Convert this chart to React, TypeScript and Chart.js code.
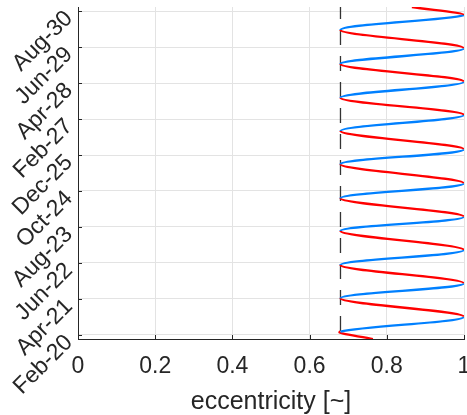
import React, { useEffect, useRef } from 'react';
import { Chart, registerables } from 'chart.js';

Chart.register(...registerables);

// y axis: months since Feb 2020
const yTickMonths = [0, 14, 28, 42, 56, 70, 84, 98, 112, 126];
const yTickLabels = ['Feb-20', 'Apr-21', 'Jun-22', 'Aug-23', 'Oct-24', 'Dec-25', 'Feb-27', 'Apr-28', 'Jun-29', 'Aug-30'];
const yMin = -1.56;
const yMax = 127.56;

// x axis ticks
const xTicks = [0, 0.2, 0.4, 0.6, 0.8, 1];

// orbit eccentricity curve (time in months since Feb 2020)
const curveMonths = [
  -1.56, 1.28, 7.12, 14.27, 20.11, 27.22, 33.06, 40.44, 46.01, 53.16, 58.99,
  66.38, 72.22, 79.33, 85.56, 92.28, 98.51, 105.39, 111.49, 118.61, 124.44, 127.56,
];
const curveEcc = [
  0.764, 0.68, 1, 0.68, 1, 0.68, 1, 0.68, 1, 0.68, 1,
  0.68, 1, 0.68, 1, 0.68, 1, 0.68, 1, 0.68, 1, 0.865,
];

// dashed reference line
const minEcc = 0.68;

const BLUE = 'rgb(0,128,255)';
const RED = 'rgb(255,0,0)';
const AXIS = '#262626';
const GRID = '#e3e3e3';
const FONT = "'Liberation Sans', Arial, Helvetica, sans-serif";

const innerTicks = {
  id: 'innerTicks',
  afterDraw(chart: any) {
    const ctx = chart.ctx;
    const xs = chart.scales.x;
    const ys = chart.scales.y;
    const { left, bottom } = chart.chartArea;
    ctx.save();
    ctx.strokeStyle = AXIS;
    ctx.lineWidth = 1;
    ctx.beginPath();
    xTicks.forEach((v) => {
      const px = Math.round(xs.getPixelForValue(v)) + 0.5;
      ctx.moveTo(px, bottom);
      ctx.lineTo(px, bottom - 4);
    });
    yTickMonths.forEach((v) => {
      const py = Math.round(ys.getPixelForValue(v)) + 0.5;
      ctx.moveTo(left, py);
      ctx.lineTo(left + 4, py);
    });
    ctx.stroke();
    ctx.restore();
  },
};

export default function App() {
  const ref = useRef<HTMLCanvasElement | null>(null);

  useEffect(() => {
    if (!ref.current) return;
    const curve = curveMonths.map((m, i) => ({ x: curveEcc[i], y: m }));
    const dash = [
      { x: minEcc, y: yMax },
      { x: minEcc, y: yMin },
    ];
    const chart = new Chart(ref.current, {
      type: 'scatter',
      data: {
        datasets: [
          {
            data: curve,
            showLine: true,
            borderWidth: 2.3,
            tension: 0.35,
            pointRadius: 0,
            borderColor: BLUE,
            segment: {
              borderColor: (c: any) => (c.p1.parsed.x > c.p0.parsed.x ? BLUE : RED),
            },
          } as any,
          {
            data: dash,
            showLine: true,
            borderWidth: 1.3,
            borderColor: '#333333',
            borderDash: [15, 11],
            borderDashOffset: 3,
            pointRadius: 0,
          } as any,
        ],
      },
      options: {
        responsive: false,
        devicePixelRatio: 1,
        animation: false,
        layout: { padding: { top: 7, right: 3, left: 0, bottom: 0 } },
        plugins: {
          legend: { display: false },
          tooltip: { enabled: false },
        },
        scales: {
          x: {
            type: 'linear',
            position: 'bottom',
            min: 0,
            max: 1,
            afterBuildTicks: (s: any) => {
              s.ticks = xTicks.map((v) => ({ value: v }));
            },
            afterFit: (s: any) => {
              s.height = 76;
              s.paddingLeft = 0;
              s.paddingRight = 0;
            },
            ticks: {
              color: AXIS,
              font: { family: FONT, size: 23 },
              padding: 14,
              maxRotation: 0,
              minRotation: 0,
              autoSkip: false,
              callback: (v: any) => String(Math.round(Number(v) * 10) / 10),
            },
            grid: { color: GRID, lineWidth: 1, drawTicks: false },
            border: { color: AXIS, width: 1 },
            title: {
              display: true,
              text: 'eccentricity [~]',
              color: AXIS,
              font: { family: FONT, size: 25 },
              padding: { top: 0, bottom: -2 },
            },
          },
          y: {
            type: 'linear',
            position: 'left',
            min: yMin,
            max: yMax,
            afterBuildTicks: (s: any) => {
              s.ticks = yTickMonths.map((v) => ({ value: v }));
            },
            afterFit: (s: any) => {
              s.width = 78;
              s.paddingTop = 0;
              s.paddingBottom = 0;
            },
            ticks: {
              color: AXIS,
              font: { family: FONT, size: 23 },
              padding: 9,
              labelOffset: 4,
              minRotation: 45,
              maxRotation: 45,
              autoSkip: false,
              callback: (v: any) => {
                const i = yTickMonths.indexOf(Number(v));
                return i >= 0 ? yTickLabels[i] : '';
              },
            },
            grid: { color: GRID, lineWidth: 1, drawTicks: false },
            border: { color: AXIS, width: 1 },
          },
        },
      } as any,
      plugins: [innerTicks],
    });
    return () => chart.destroy();
  }, []);

  return (
    <div style={{ position: 'fixed', left: 0, top: 0, width: 467, height: 415, background: '#fff' }}>
      <canvas ref={ref} width={467} height={415} style={{ display: 'block', width: 467, height: 415 }} />
    </div>
  );
}
